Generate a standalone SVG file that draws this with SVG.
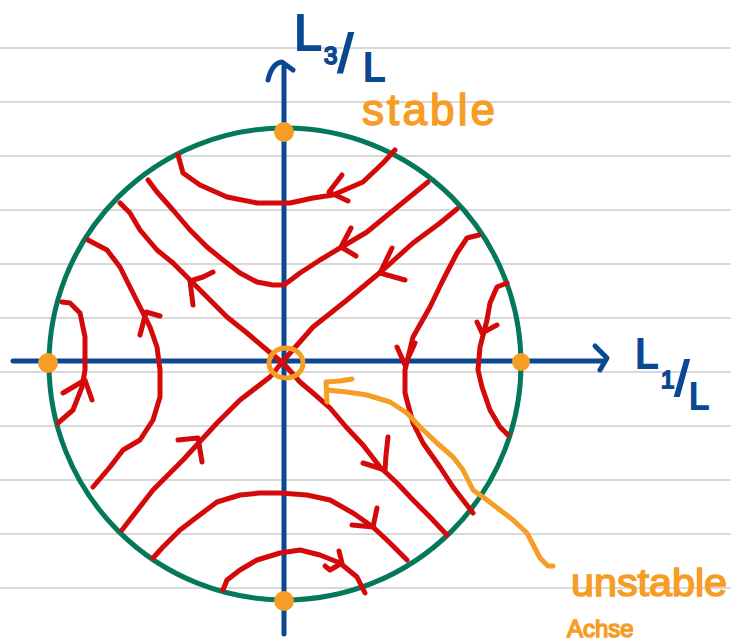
<svg xmlns="http://www.w3.org/2000/svg" width="731" height="641" viewBox="0 0 731 641">
<style>
.rule{stroke:#d9d9d9;stroke-width:2}
.ax{stroke:#0b4893;stroke-width:5;fill:none;stroke-linecap:round;stroke-linejoin:round}
.tr{stroke:#d40a0a;stroke-width:5;fill:none;stroke-linecap:round;stroke-linejoin:round}
.or{stroke:#f59d24;stroke-width:5;fill:none;stroke-linecap:round;stroke-linejoin:round}
.dot{fill:#f59d24}
.blue{fill:#0b4893;stroke:#0b4893;stroke-width:2;font-family:"Liberation Sans",Arial,sans-serif}
.otx{fill:#f59d24;stroke:#f59d24;stroke-width:1.5;font-family:"Liberation Sans",Arial,sans-serif}
</style>
<rect width="731" height="641" fill="#ffffff"/>
<g id="rules">
<line class="rule" x1="0" y1="48" x2="731" y2="48"/>
<line class="rule" x1="0" y1="102" x2="731" y2="102"/>
<line class="rule" x1="0" y1="156" x2="731" y2="156"/>
<line class="rule" x1="0" y1="210" x2="731" y2="210"/>
<line class="rule" x1="0" y1="264" x2="731" y2="264"/>
<line class="rule" x1="0" y1="318" x2="731" y2="318"/>
<line class="rule" x1="0" y1="372" x2="731" y2="372"/>
<line class="rule" x1="0" y1="426" x2="731" y2="426"/>
<line class="rule" x1="0" y1="480" x2="731" y2="480"/>
<line class="rule" x1="0" y1="534" x2="731" y2="534"/>
<line class="rule" x1="0" y1="588" x2="731" y2="588"/>
</g>
<g id="sphere">
<circle cx="285" cy="364" r="236" fill="none" stroke="#05775a" stroke-width="5"/>
</g>
<g id="axes">
<path class="ax" d="M13,361 L604,361"/>
<path class="ax" d="M595,346 L607,358 L600,370"/>
<path class="ax" d="M284,634 L284,66"/>
<path class="ax" d="M268,80 Q272,63 282,62 L293,70"/>
</g>
<g id="trajectories">
<path class="tr" d="M178,155 L183,173 L200,185 L227,197 L257,203 L290,203 L313,198 L333,195 L363,182 L383,163 L395,150"/>
<path class="tr" d="M342,175 L329,192 L348,201"/>
<path class="tr" d="M148,180 L157,192 L173,210 L190,230 L207,247 L223,260 L240,273 L257,282 L273,285 L284,285 L300,273 L320,260 L340,248 L367,232 L390,213 L428,182"/>
<path class="tr" d="M351,228 L341,247 L356,256"/>
<path class="tr" d="M120,203 L130,213 L140,230 L157,250 L173,263 L190,280 L207,297 L227,317 L247,333 L267,350 L284,364 L300,382 L313,393 L330,408 L347,428 L363,445 L380,467 L397,483 L413,500 L430,517 L447,535"/>
<path class="tr" d="M213,272 L203,277 L190,281 L193,305"/>
<path class="tr" d="M388,437 L386,455 L385,470 L363,463"/>
<path class="tr" d="M457,209 L440,223 L413,243 L383,270 L347,300 L313,327 L284,360 L270,377 L240,400 L217,423 L183,460 L153,490 L122,530"/>
<path class="tr" d="M392,248 L380,273 L405,280"/>
<path class="tr" d="M178,440 L198,438 L202,462"/>
<path class="tr" d="M88,240 L107,250 L120,267 L130,287 L140,307 L150,327 L157,347 L160,370 L160,397 L153,420 L140,440 L123,450 L110,467 L93,487"/>
<path class="tr" d="M140,335 L146,312 L160,316"/>
<path class="tr" d="M62,302 L70,303 L80,313 L85,337 L85,370 L82,387 L73,410 L58,423"/>
<path class="tr" d="M63,393 L85,380 L92,400"/>
<path class="tr" d="M153,558 L163,547 L180,530 L197,517 L217,502 L240,495 L260,493 L280,493 L307,495 L330,500 L353,513 L373,527 L390,543 L407,560"/>
<path class="tr" d="M377,508 L373,527 L352,525"/>
<path class="tr" d="M223,590 L227,580 L240,570 L257,560 L280,553 L300,550 L320,555 L340,563 L357,577 L365,593"/>
<path class="tr" d="M339,551 L342,563 L330,570 L325,566"/>
<path class="tr" d="M479,235 L467,238 L457,253 L443,280 L430,307 L413,337 L405,370 L405,393 L413,423 L423,443 L440,467 L453,487 L473,513"/>
<path class="tr" d="M397,347 L405,365 L415,343"/>
<path class="tr" d="M507,283 L497,287 L490,303 L487,320 L480,347 L478,370 L482,387 L490,410 L500,427 L508,435"/>
<path class="tr" d="M477,322 L482,333 L497,325"/>
</g>
<g id="fixed-points">
<circle class="dot" cx="284" cy="132" r="10"/>
<circle class="dot" cx="48" cy="363" r="10"/>
<circle class="dot" cx="521" cy="362" r="9"/>
<circle class="dot" cx="284" cy="601" r="10"/>
</g>
<g id="unstable-point">
<ellipse class="or" cx="286" cy="363" rx="17" ry="15"/>
</g>
<g id="annotation-pointer">
<path class="or" d="M352,379 L340,381 L326,382 L327,402"/>
<path class="or" d="M327,390 L347,392 L367,395 L390,402 L407,413 L420,427 L437,443 L453,457 L463,470 L473,490 L487,500 L513,520 L527,533 L540,558 L548,566 L553,566"/>
</g>
<g id="labels">
<text class="blue" x="294" y="50" font-size="50">L</text>
<text class="blue" x="324" y="64" font-size="24">3</text>
<text class="blue" x="338" y="72" font-size="54">/</text>
<text class="blue" x="363" y="81" font-size="40">L</text>
<text class="blue" x="635" y="368" font-size="42">L</text>
<text class="blue" x="661" y="388" font-size="24">1</text>
<text class="blue" x="675" y="396" font-size="50">/</text>
<text class="blue" x="689" y="409" font-size="36">L</text>
<text class="otx" x="362" y="125" font-size="44" textLength="133" lengthAdjust="spacing">stable</text>
<text class="otx" x="571" y="596" font-size="38" textLength="156" lengthAdjust="spacingAndGlyphs">unstable</text>
<text class="otx" x="567" y="637" font-size="24">Achse</text>
</g>
</svg>
